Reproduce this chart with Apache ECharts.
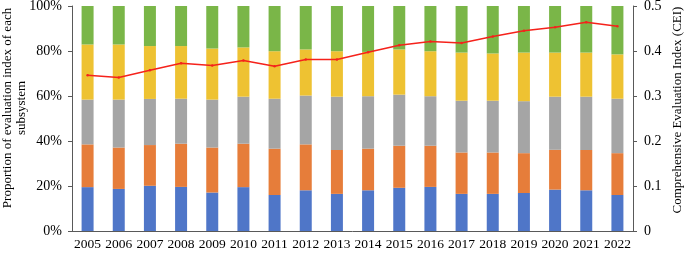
<!DOCTYPE html>
<html>
<head>
<meta charset="utf-8">
<script src="https://cdn.jsdelivr.net/npm/echarts@6/dist/echarts.min.js"></script>
<style>
    html, body { margin: 0; padding: 0; background: #fff; }
    #chart { width: 685px; height: 253px; }
</style>
</head>
<body>
<div id="chart"></div>
<script>
// 年份
const years = ['2005', '2006', '2007', '2008', '2009', '2010', '2011', '2012', '2013',
    '2014', '2015', '2016', '2017', '2018', '2019', '2020', '2021', '2022'];

// 各子系统占比 (%)
const blueShare = [19.5, 18.7, 20.1, 19.6, 17.1, 19.5, 16.0, 18.1, 16.5, 18.1, 19.2, 19.6, 16.5, 16.5, 16.9, 18.4, 18.1, 16.0];
const orangeShare = [19.0, 18.4, 18.1, 19.2, 20.0, 19.3, 20.6, 20.4, 19.5, 18.5, 18.7, 18.3, 18.4, 18.4, 17.7, 17.7, 17.9, 18.6];
const grayShare = [19.9, 21.3, 20.5, 20.0, 21.3, 20.9, 22.2, 21.7, 23.7, 23.3, 22.7, 22.0, 23.0, 23.0, 23.1, 23.6, 23.7, 24.2];
const yellowShare = [24.5, 24.5, 23.5, 23.4, 22.7, 21.9, 21.1, 20.5, 20.2, 19.7, 20.1, 20.0, 21.4, 21.0, 21.6, 19.6, 19.6, 19.7];
const greenShare = [17.1, 17.1, 17.8, 17.8, 18.9, 18.4, 20.1, 19.3, 20.1, 20.4, 19.3, 20.1, 20.7, 21.1, 20.7, 20.7, 20.7, 21.5];

// 综合评价指数 CEI
const cei = [0.346, 0.341, 0.357, 0.373, 0.368, 0.379, 0.366, 0.381, 0.381, 0.397, 0.413, 0.421, 0.418, 0.432, 0.445, 0.453, 0.464, 0.455];

const leftTitle = 'Proportion of evaluation index of each\nsubsystem';
const rightTitle = 'Comprehensive Evaluation Index (CEI)';

const font = 'Liberation Serif';
const axisColor = '#595959';

const barSeries = (data, color) => ({
    type: 'bar',
    stack: 'share',
    barWidth: 12,
    data: data,
    itemStyle: { color: color },
});

// 纵向轴标题
const axisTitle = (text, x, y) => ({
    type: 'text',
    x: x,
    y: y,
    rotation: Math.PI / 2,
    style: {
        text: text,
        fill: '#000',
        font: '13px "Liberation Serif"',
        lineHeight: 14,
        align: 'center',
        verticalAlign: 'middle',
    },
});

const myChart = echarts.init(document.getElementById('chart'));
myChart.setOption({
    animation: false,
    textStyle: { fontFamily: font },
    grid: {
        top: 6,
        left: 72,
        right: 52,
        bottom: 22,
        containLabel: false,
        outerBoundsMode: 'none',
    },
    graphic: [
        axisTitle(leftTitle, 15, 108),
        axisTitle(rightTitle, 678, 110),
    ],
    xAxis: {
        type: 'category',
        data: years,
        axisLine: { lineStyle: { color: axisColor } },
        axisTick: { length: 4, lineStyle: { color: axisColor } },
        axisLabel: {
            interval: 0,
            color: '#000',
            fontSize: 13.5,
            fontFamily: font,
            margin: 6,
        },
    },
    yAxis: [
        {
            type: 'value',
            min: 0,
            max: 100,
            interval: 20,
            splitLine: { show: false },
            axisLine: { show: true, lineStyle: { color: axisColor } },
            axisTick: { show: true, length: 4, lineStyle: { color: axisColor } },
            axisLabel: {
                formatter: '{value}%',
                color: '#000',
                fontSize: 14,
                fontFamily: font,
                margin: 10,
            },
        },
        {
            type: 'value',
            min: 0,
            max: 0.5,
            interval: 0.1,
            splitLine: { show: false },
            axisLine: { show: true, lineStyle: { color: axisColor } },
            axisTick: { show: true, length: 4, lineStyle: { color: axisColor } },
            axisLabel: {
                formatter: (v) => (v === 0 ? '0' : v.toFixed(1)),
                color: '#000',
                fontSize: 14,
                fontFamily: font,
                margin: 11,
            },
        },
    ],
    series: [
        barSeries(blueShare, '#4F76C8'),
        barSeries(orangeShare, '#E67D3A'),
        barSeries(grayShare, '#A5A5A5'),
        barSeries(yellowShare, '#EEC232'),
        barSeries(greenShare, '#7AB648'),
        {
            type: 'line',
            yAxisIndex: 1,
            data: cei,
            symbol: 'circle',
            symbolSize: 2.5,
            itemStyle: { color: '#F5221B' },
            lineStyle: { color: '#F5221B', width: 1.5 },
            z: 5,
        },
    ],
});
</script>
</body>
</html>
